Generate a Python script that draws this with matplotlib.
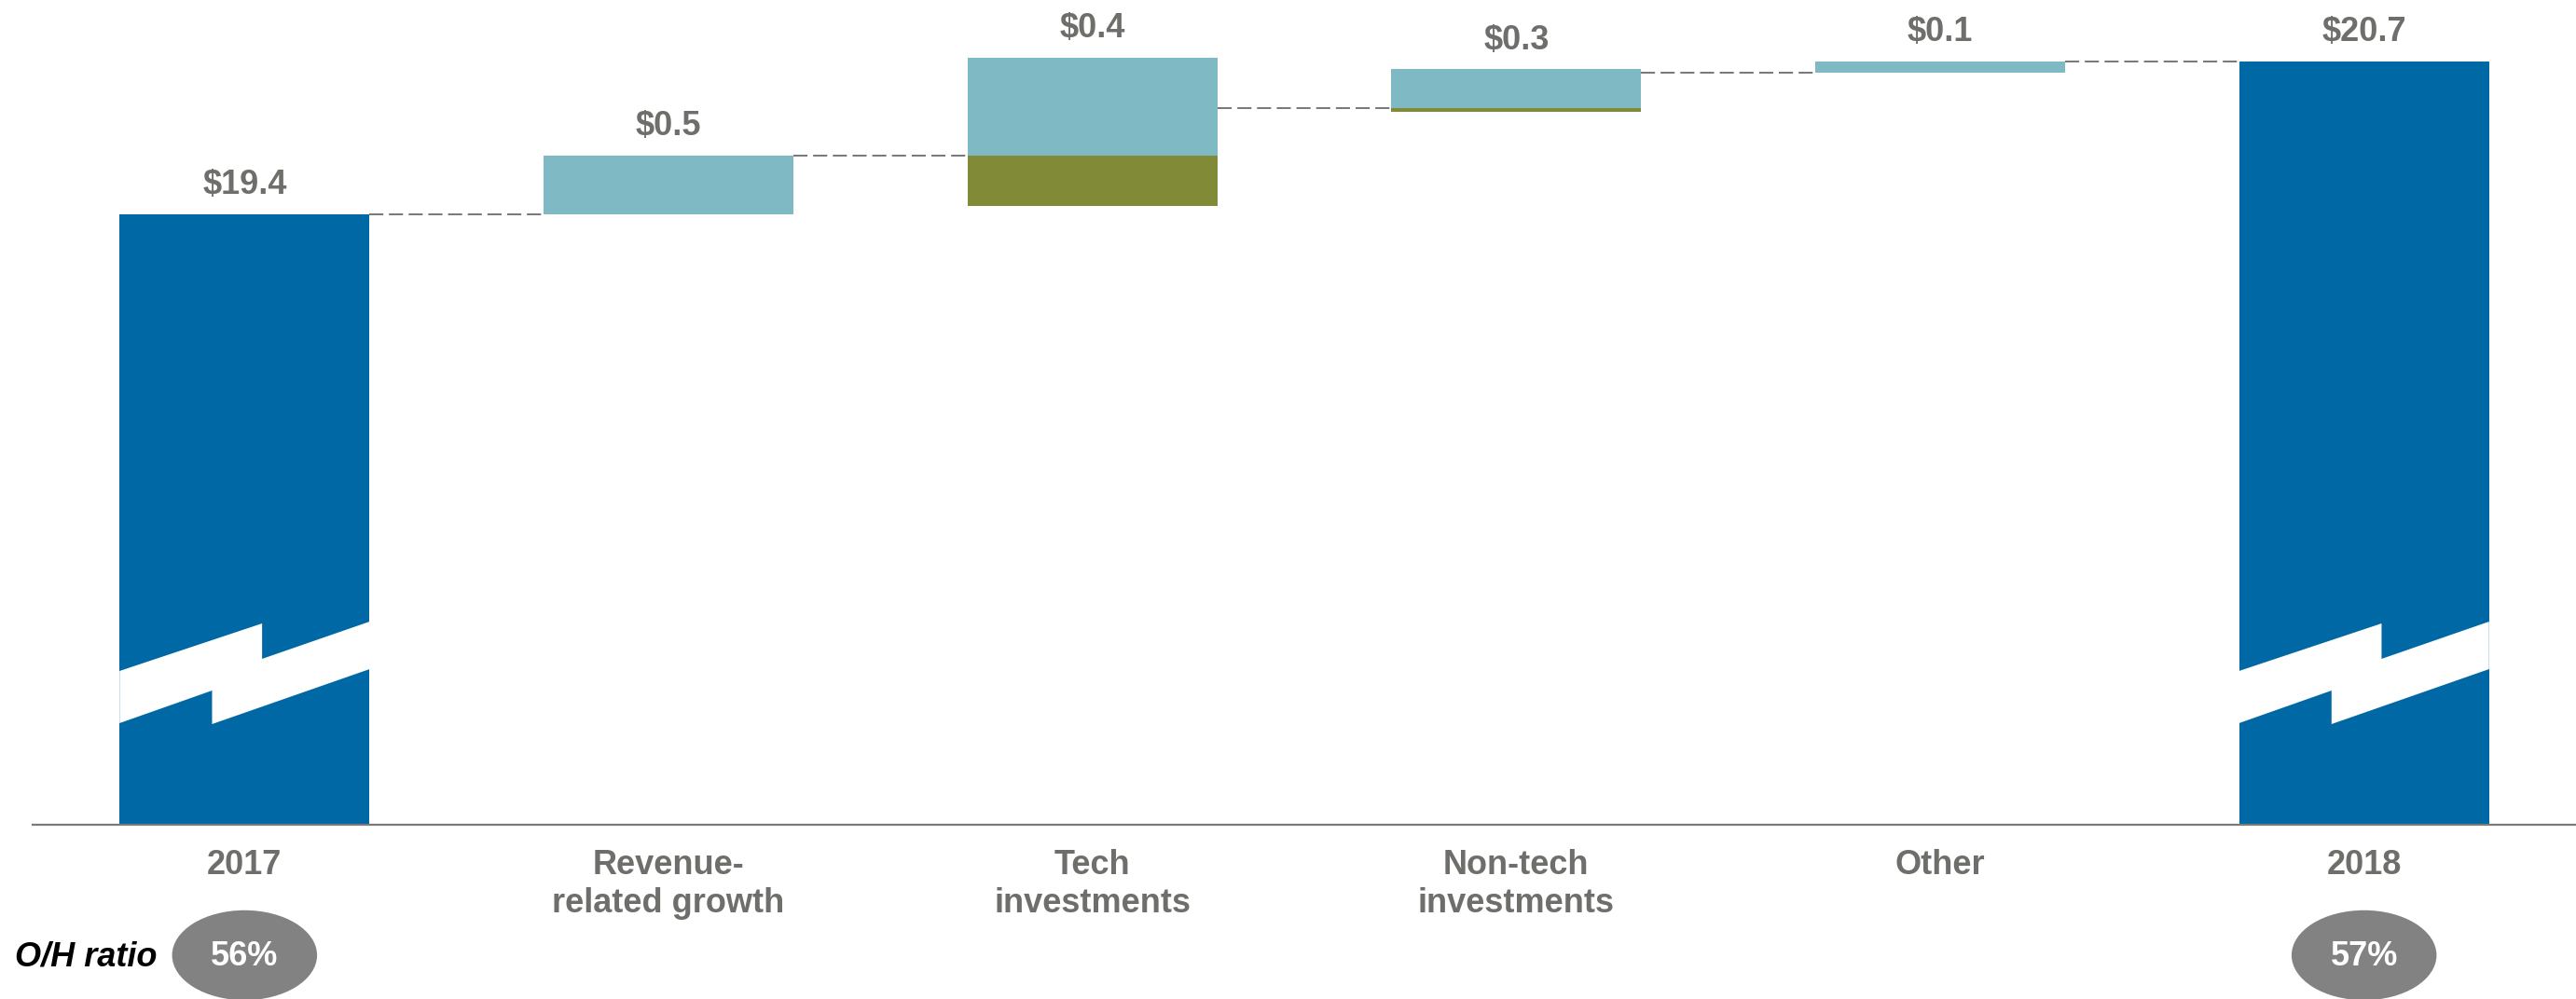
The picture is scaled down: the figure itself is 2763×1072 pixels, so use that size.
import matplotlib
matplotlib.use("Agg")
import matplotlib.pyplot as plt
from matplotlib.patches import Ellipse, Polygon
from matplotlib.transforms import blended_transform_factory

# overhead bridge 2017 -> 2018, $B
categories = ["2017", "Revenue-\nrelated growth", "Tech\ninvestments",
              "Non-tech\ninvestments", "Other", "2018"]
start_total = 19.4
end_total = 20.7
step_gross = [0.5, 0.83, 0.33, 0.1]      # increases
step_offset = [0.0, -0.43, -0.03, 0.0]   # savings netted against them
oh_labels = ["O/H ratio"]
oh_ratio = ["56%", "57%"]

BLUE = "#0068a4"
CYAN = "#7fb9c3"
OLIVE = "#818a37"
GREY_TXT = "#6e6e6a"
GREY_LINE = "#7a7a7a"
OVAL = "#828282"

plt.rcParams["font.family"] = ["Liberation Sans", "DejaVu Sans"]

W, H = 2763, 1072
fig = plt.figure(figsize=(W / 100, H / 100), dpi=100)
ax = fig.add_axes([35 / W, 1 - 885 / H, 2728 / W, 885 / H])
ax.set_xlim(-0.5, 5.5)
ax.set_ylim(14.21, 21.22)

bw = 0.59
levels = [start_total]
for g, o in zip(step_gross, step_offset):
    levels.append(levels[-1] + g + o)

# totals
ax.bar(0, start_total, bw, color=BLUE, zorder=2)
ax.bar(5, end_total, bw, color=BLUE, zorder=2)

tops = [start_total]
nets = [start_total]
for i, (g, o) in enumerate(zip(step_gross, step_offset), start=1):
    base = levels[i - 1]
    ax.bar(i, g, bw, bottom=base, color=CYAN, zorder=2)
    if o < 0:
        ax.bar(i, o, bw, bottom=base, color=OLIVE, zorder=2)
    tops.append(base + g)
    nets.append(g + o)
tops.append(end_total)
nets.append(end_total)

# dashed connectors between bars
for i in range(5):
    ax.plot([i + bw / 2, i + 1 - bw / 2], [levels[i], levels[i]],
            color=GREY_LINE, lw=1.45, ls=(0, (7.5, 3)), zorder=1)

# value labels
for i, (t, v) in enumerate(zip(tops, nets)):
    ax.annotate(f"${v:.1f}", (i, t), xytext=(0, 22.5), textcoords="offset points",
                ha="center", va="center", fontsize=26, fontweight="bold",
                color=GREY_TXT)

# axis break on the total bars
trans = blended_transform_factory(ax.transData, ax.transAxes)
def yf(py):
    return (885 - py) / 885
for i in (0, 5):
    xl = i - bw / 2
    pts = [(xl, yf(720)), (xl + 0.57 * bw, yf(669)), (xl + 0.57 * bw, yf(707)),
           (xl + bw, yf(667)), (xl + bw, yf(718)), (xl + 0.37 * bw, yf(777)),
           (xl + 0.37 * bw, yf(741)), (xl, yf(776))]
    ax.add_patch(Polygon(pts, closed=True, transform=trans, facecolor="white",
                         edgecolor="none", zorder=3))

# O/H ratio ovals
for i, txt in zip((0, 5), oh_ratio):
    ax.add_patch(Ellipse((i, yf(1025)), 0.342, 0.109, transform=trans,
                         facecolor=OVAL, edgecolor="none", clip_on=False))
    ax.text(i, yf(1027), txt, transform=trans, ha="center", va="center",
            fontsize=26, fontweight="bold", color="white", clip_on=False)
fig.text(16 / W, 1 - 1027 / H, oh_labels[0], ha="left", va="center",
         fontsize=26, fontweight="bold", fontstyle="italic", color="black")

ax.set_xticks(range(len(categories)))
ax.set_xticklabels(categories, fontsize=26, fontweight="bold", color=GREY_TXT)
ax.tick_params(axis="x", length=0, pad=19)
ax.set_yticks([])
for s in ("top", "left", "right"):
    ax.spines[s].set_visible(False)
ax.spines["bottom"].set_color(GREY_LINE)
ax.spines["bottom"].set_linewidth(1.6)

fig.savefig("out.png", dpi=100)
